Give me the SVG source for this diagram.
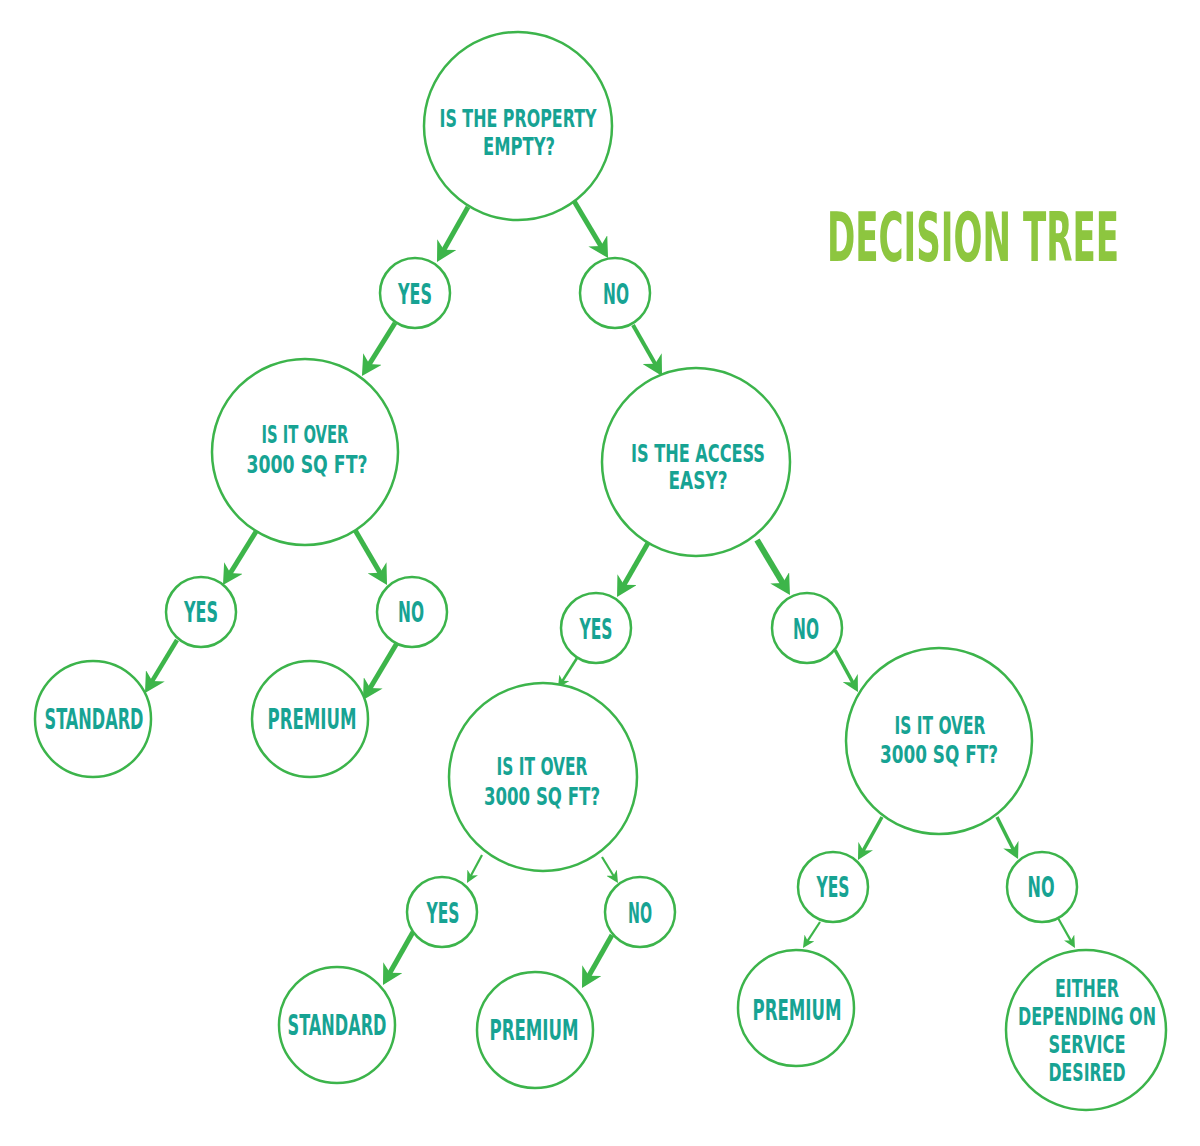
<svg xmlns="http://www.w3.org/2000/svg" width="1200" height="1146" viewBox="0 0 1200 1146">
<style>
  .node circle { fill: #ffffff; stroke: #3cb44b; stroke-width: 2.5; }
  .node text { font-family: "Liberation Sans Narrow", "DejaVu Sans Condensed", "Liberation Sans", sans-serif; font-weight: bold; font-size: 28px; fill: #17a393; text-anchor: middle; }
  .node text.ml { font-size: 25px; }
  .title { font-family: "Liberation Sans Narrow", "DejaVu Sans Condensed", "Liberation Sans", sans-serif; font-weight: bold; font-size: 67px; fill: #8dc63f; text-anchor: end; }
  .edges line { stroke: #3db54a; fill: none; stroke-linecap: butt; }
  .big { stroke-width: 5; marker-end: url(#headBig); }
  .med { stroke-width: 3.5; marker-end: url(#headMed); }
  .small { stroke-width: 2.2; marker-end: url(#headSmall); }
</style>
<defs>
  <marker id="headBig" viewBox="0 0 20 22" refX="8" refY="11" markerWidth="20" markerHeight="22" markerUnits="userSpaceOnUse" orient="auto">
    <path d="M0,0 L20,11 L0,22 L6,11 Z" fill="#3db54a"/>
  </marker>
  <marker id="headMed" viewBox="0 0 16 17" refX="6.5" refY="8.5" markerWidth="16" markerHeight="17" markerUnits="userSpaceOnUse" orient="auto">
    <path d="M0,0 L16,8.5 L0,17 L5,8.5 Z" fill="#3db54a"/>
  </marker>
  <marker id="headSmall" viewBox="0 0 12 12" refX="5" refY="6" markerWidth="12" markerHeight="12" markerUnits="userSpaceOnUse" orient="auto">
    <path d="M0,0 L12,6 L0,12 L3.5,6 Z" fill="#3db54a"/>
  </marker>
</defs>
<rect x="0" y="0" width="1200" height="1146" fill="#ffffff"/>

<text class="title" x="1119" y="261" textLength="292" lengthAdjust="spacingAndGlyphs">DECISION TREE</text>

<g id="connectors" class="edges">
  <line class="big" x1="468" y1="207" x2="442.9" y2="251.5"/>
  <line class="big" x1="574" y1="201" x2="601.9" y2="247.7"/>
  <line class="big" x1="395" y1="323" x2="368.3" y2="365.8"/>
  <line class="big" x1="633" y1="325" x2="656.1" y2="365.6" style="stroke-width:4"/>
  <line class="big" x1="257" y1="530" x2="229.3" y2="574.8"/>
  <line class="big" x1="355" y1="530" x2="381" y2="574.6"/>
  <line class="big" x1="177" y1="640" x2="151.2" y2="682.7" style="stroke-width:4.5"/>
  <line class="big" x1="397" y1="643" x2="369.1" y2="689.7"/>
  <line class="big" x1="648" y1="543" x2="623" y2="586.6"/>
  <line class="big" x1="757" y1="540" x2="783.8" y2="584.7" style="stroke-width:6"/>
  <line class="small" x1="577" y1="658" x2="561.7" y2="682.1" style="stroke-width:2.6"/>
  <line class="med" x1="835" y1="650" x2="853.4" y2="683.7"/>
  <line class="small" x1="482" y1="855" x2="470.3" y2="876.8"/>
  <line class="small" x1="602" y1="857" x2="614.3" y2="877"/>
  <line class="big" x1="413" y1="932" x2="388.9" y2="974.6"/>
  <line class="big" x1="612" y1="935" x2="587.9" y2="977.6"/>
  <line class="med" x1="882" y1="817" x2="862.6" y2="851.7"/>
  <line class="med" x1="997" y1="817" x2="1013.8" y2="850.5"/>
  <line class="small" x1="820" y1="922" x2="806.8" y2="942.1"/>
  <line class="small" x1="1058" y1="918" x2="1071.5" y2="941.9"/>
</g>

<g id="n-root" class="node">
  <circle cx="518" cy="126" r="94"/>
  <text class="ml" x="518" y="127" textLength="157" lengthAdjust="spacingAndGlyphs">IS THE PROPERTY</text>
  <text class="ml" x="519" y="155" textLength="72" lengthAdjust="spacingAndGlyphs">EMPTY?</text>
</g>
<g id="n-yes1" class="node">
  <circle cx="415" cy="293" r="35"/>
  <text x="415" y="304" textLength="34" lengthAdjust="spacingAndGlyphs">YES</text>
</g>
<g id="n-no1" class="node">
  <circle cx="615" cy="293" r="35"/>
  <text x="616" y="304" textLength="26" lengthAdjust="spacingAndGlyphs">NO</text>
</g>
<g id="n-size1" class="node">
  <circle cx="305" cy="452" r="93"/>
  <text class="ml" x="305" y="443" textLength="87" lengthAdjust="spacingAndGlyphs">IS IT OVER</text>
  <text class="ml" x="307" y="473" textLength="121" lengthAdjust="spacingAndGlyphs">3000 SQ FT?</text>
</g>
<g id="n-access" class="node">
  <circle cx="696" cy="462" r="94"/>
  <text class="ml" x="698" y="462" textLength="134" lengthAdjust="spacingAndGlyphs">IS THE ACCESS</text>
  <text class="ml" x="698" y="489" textLength="59" lengthAdjust="spacingAndGlyphs">EASY?</text>
</g>
<g id="n-yes2" class="node">
  <circle cx="201" cy="612" r="35"/>
  <text x="201" y="622" textLength="34" lengthAdjust="spacingAndGlyphs">YES</text>
</g>
<g id="n-no2" class="node">
  <circle cx="412" cy="612" r="35"/>
  <text x="411" y="622" textLength="26" lengthAdjust="spacingAndGlyphs">NO</text>
</g>
<g id="n-standard1" class="node">
  <circle cx="93" cy="719" r="58"/>
  <text x="94" y="729" textLength="99" lengthAdjust="spacingAndGlyphs">STANDARD</text>
</g>
<g id="n-premium1" class="node">
  <circle cx="310" cy="719" r="58"/>
  <text x="312" y="729" textLength="89" lengthAdjust="spacingAndGlyphs">PREMIUM</text>
</g>
<g id="n-yes3" class="node">
  <circle cx="596" cy="628" r="35"/>
  <text x="596" y="639" textLength="33" lengthAdjust="spacingAndGlyphs">YES</text>
</g>
<g id="n-no3" class="node">
  <circle cx="807" cy="628" r="35"/>
  <text x="806" y="639" textLength="26" lengthAdjust="spacingAndGlyphs">NO</text>
</g>
<g id="n-size2" class="node">
  <circle cx="543" cy="777" r="94"/>
  <text class="ml" x="542" y="775" textLength="91" lengthAdjust="spacingAndGlyphs">IS IT OVER</text>
  <text class="ml" x="542" y="805" textLength="116" lengthAdjust="spacingAndGlyphs">3000 SQ FT?</text>
</g>
<g id="n-size3" class="node">
  <circle cx="939" cy="741" r="93"/>
  <text class="ml" x="940" y="734" textLength="91" lengthAdjust="spacingAndGlyphs">IS IT OVER</text>
  <text class="ml" x="939" y="763" textLength="118" lengthAdjust="spacingAndGlyphs">3000 SQ FT?</text>
</g>
<g id="n-yes4" class="node">
  <circle cx="442" cy="912" r="35"/>
  <text x="443" y="923" textLength="33" lengthAdjust="spacingAndGlyphs">YES</text>
</g>
<g id="n-no4" class="node">
  <circle cx="640" cy="912" r="35"/>
  <text x="640" y="923" textLength="24" lengthAdjust="spacingAndGlyphs">NO</text>
</g>
<g id="n-standard2" class="node">
  <circle cx="337" cy="1025" r="58"/>
  <text x="337" y="1035" textLength="99" lengthAdjust="spacingAndGlyphs">STANDARD</text>
</g>
<g id="n-premium2" class="node">
  <circle cx="535" cy="1030" r="58"/>
  <text x="534" y="1040" textLength="89" lengthAdjust="spacingAndGlyphs">PREMIUM</text>
</g>
<g id="n-yes5" class="node">
  <circle cx="833" cy="887" r="35"/>
  <text x="833" y="897" textLength="33" lengthAdjust="spacingAndGlyphs">YES</text>
</g>
<g id="n-no5" class="node">
  <circle cx="1042" cy="887" r="35"/>
  <text x="1041" y="897" textLength="27" lengthAdjust="spacingAndGlyphs">NO</text>
</g>
<g id="n-premium3" class="node">
  <circle cx="796" cy="1008" r="58"/>
  <text x="797" y="1020" textLength="89" lengthAdjust="spacingAndGlyphs">PREMIUM</text>
</g>
<g id="n-either" class="node">
  <circle cx="1086" cy="1030" r="80"/>
  <text class="ml" x="1087" y="997" textLength="64" lengthAdjust="spacingAndGlyphs">EITHER</text>
  <text class="ml" x="1087" y="1025" textLength="138" lengthAdjust="spacingAndGlyphs">DEPENDING ON</text>
  <text class="ml" x="1087" y="1053" textLength="77" lengthAdjust="spacingAndGlyphs">SERVICE</text>
  <text class="ml" x="1087" y="1081" textLength="77" lengthAdjust="spacingAndGlyphs">DESIRED</text>
</g>
</svg>
